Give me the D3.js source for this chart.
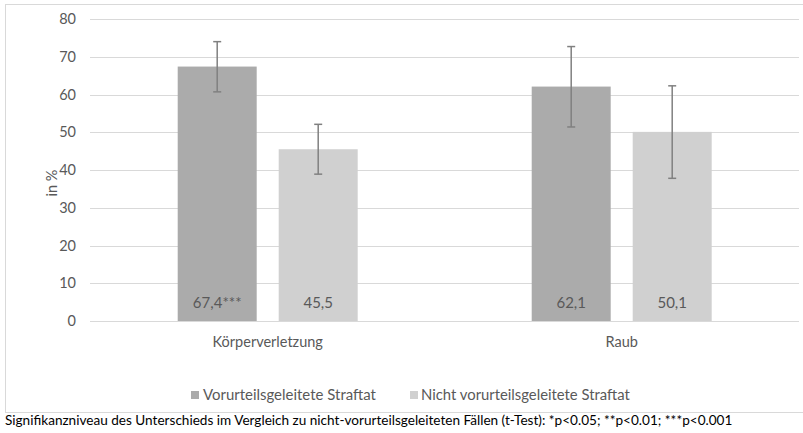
<!DOCTYPE html>
<html>
<head>
<meta charset="utf-8">
<script src="https://cdn.jsdelivr.net/npm/d3@7"></script>
<style>
  html, body { margin: 0; padding: 0; background: #fff; }
  svg { display: block; }
  text { font-family: Lato, "Open Sans", sans-serif; }
</style>
</head>
<body>
<svg id="chart" width="803" height="433"></svg>
<script>
const categories = ["Körperverletzung", "Raub"];
const seriesNames = ["Vorurteilsgeleitete Straftat", "Nicht vorurteilsgeleitete Straftat"];
const valuesHate = [67.4, 62.1];
const valuesNonHate = [45.5, 50.1];
const errLowHate = [60.7, 51.4];
const errHighHate = [74.0, 72.7];
const errLowNonHate = [38.9, 37.8];
const errHighNonHate = [52.1, 62.3];
const labelsHate = ["67,4***", "62,1"];
const labelsNonHate = ["45,5", "50,1"];
const yTicks = [0, 10, 20, 30, 40, 50, 60, 70, 80];
const yAxisTitle = "in %";
const footnote = "Signifikanzniveau des Unterschieds im Vergleich zu nicht-vorurteilsgeleiteten Fällen (t-Test): *p<0.05; **p<0.01; ***p<0.001";

const colors = ["#ababab", "#d0d0d0"];

const rows = categories.map((c, i) => ({
  cat: c,
  bars: [
    { s: seriesNames[0], v: valuesHate[i], lo: errLowHate[i], hi: errHighHate[i], label: labelsHate[i] },
    { s: seriesNames[1], v: valuesNonHate[i], lo: errLowNonHate[i], hi: errHighNonHate[i], label: labelsNonHate[i] }
  ]
}));

const svg = d3.select("#chart");

// outer chart border
svg.append("rect")
  .attr("x", 5.5).attr("y", 4.5).attr("width", 830).attr("height", 408)
  .attr("fill", "none").attr("stroke", "#d9d9d9").attr("stroke-width", 1);

const plotLeft = 90.7, plotRight = 798.7, plotTop = 19, plotBottom = 321;

const y = d3.scaleLinear().domain([0, 80]).range([plotBottom, plotTop]);
const x0 = d3.scaleBand().domain(categories).range([plotLeft, plotRight]).paddingInner(0).paddingOuter(0);
const x1 = d3.scaleBand().domain(seriesNames).range([0, x0.bandwidth()])
  .paddingInner(22 / 101).paddingOuter(87 / 101);

// gridlines
svg.append("g").selectAll("line").data(yTicks).join("line")
  .attr("x1", 90).attr("x2", 799)
  .attr("y1", d => Math.round(y(d)) + 0.5).attr("y2", d => Math.round(y(d)) + 0.5)
  .attr("stroke", "#d9d9d9").attr("stroke-width", 1);

// y axis tick labels
const yAxis = d3.axisLeft(y).tickValues(yTicks).tickSize(0).tickPadding(0);
const gy = svg.append("g").attr("transform", "translate(76,0)").call(yAxis);
gy.select(".domain").remove();
gy.selectAll("text").attr("fill", "#595959").attr("font-size", 14.5)
  .attr("font-family", "Lato, 'Open Sans', sans-serif");

// y axis title
svg.append("text")
  .attr("transform", "translate(57,183) rotate(-90)")
  .attr("text-anchor", "middle")
  .attr("fill", "#595959").attr("font-size", 14.5)
  .text(yAxisTitle);

// bars
const groups = svg.append("g").selectAll("g").data(rows).join("g")
  .attr("transform", d => `translate(${x0(d.cat)},0)`);

groups.selectAll("rect").data(d => d.bars).join("rect")
  .attr("x", d => x1(d.s)).attr("width", x1.bandwidth())
  .attr("y", d => y(d.v)).attr("height", d => y(0) - y(d.v))
  .attr("fill", (d, i) => colors[i]);

// value labels
groups.selectAll("text.val").data(d => d.bars).join("text")
  .attr("class", "val")
  .attr("x", d => x1(d.s) + x1.bandwidth() / 2)
  .attr("y", y(0) - 13)
  .attr("text-anchor", "middle")
  .attr("fill", "#595959").attr("font-size", 15)
  .text(d => d.label);

// error bars
const eb = groups.selectAll("g.err").data(d => d.bars).join("g").attr("class", "err")
  .attr("stroke", "#808080").attr("stroke-width", 1.5);
eb.append("line")
  .attr("x1", d => x1(d.s) + x1.bandwidth() / 2).attr("x2", d => x1(d.s) + x1.bandwidth() / 2)
  .attr("y1", d => y(d.lo)).attr("y2", d => y(d.hi));
eb.append("line")
  .attr("x1", d => x1(d.s) + x1.bandwidth() / 2 - 4).attr("x2", d => x1(d.s) + x1.bandwidth() / 2 + 4)
  .attr("y1", d => y(d.lo)).attr("y2", d => y(d.lo));
eb.append("line")
  .attr("x1", d => x1(d.s) + x1.bandwidth() / 2 - 4).attr("x2", d => x1(d.s) + x1.bandwidth() / 2 + 4)
  .attr("y1", d => y(d.hi)).attr("y2", d => y(d.hi));

// category labels
const xAxis = d3.axisBottom(x0).tickSize(0).tickPadding(0);
const gx = svg.append("g").attr("transform", "translate(0,337)").call(xAxis);
gx.select(".domain").remove();
gx.selectAll("text").attr("fill", "#595959").attr("font-size", 14.5)
  .attr("font-family", "Lato, 'Open Sans', sans-serif");

function fitWidth(sel, target) {
  const node = sel.node();
  const w = node.getComputedTextLength();
  const fs = parseFloat(sel.attr("font-size"));
  if (w > 0) sel.attr("font-size", (fs * target / w).toFixed(2));
}

// legend
const legendSquareX = [191, 410];
const legendTextX = [203, 421];
const legendTextW = [173, 209];
const lg = svg.append("g").selectAll("g").data(seriesNames).join("g");
lg.append("rect")
  .attr("x", (d, i) => legendSquareX[i]).attr("y", 391)
  .attr("width", 8).attr("height", 8)
  .attr("fill", (d, i) => colors[i]);
lg.append("text")
  .attr("x", (d, i) => legendTextX[i]).attr("y", 400)
  .attr("fill", "#595959").attr("font-size", 14)
  .text(d => d)
  .each(function(d, i) { fitWidth(d3.select(this), legendTextW[i]); });

// footnote
const fn = svg.append("text")
  .attr("x", 5).attr("y", 425)
  .attr("fill", "#000").attr("font-size", 12.5)
  .text(footnote);
fitWidth(fn, 728);
</script>
</body>
</html>
